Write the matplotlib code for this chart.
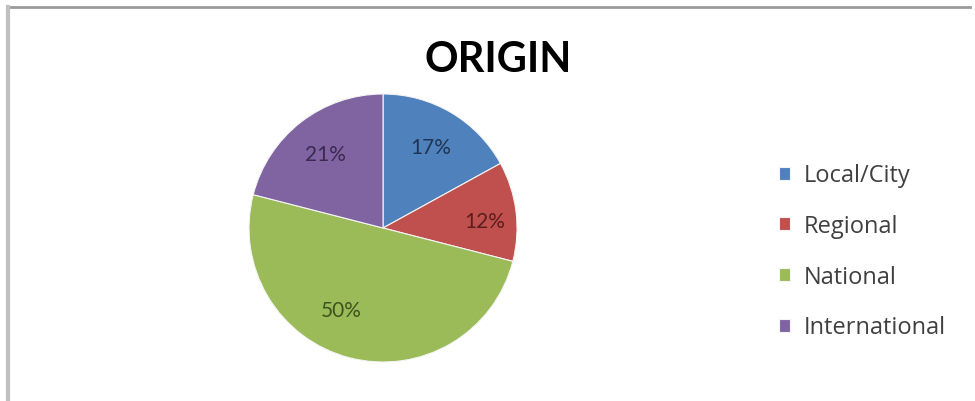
import numpy as np
import matplotlib.pyplot as plt
from matplotlib.lines import Line2D

# Dados do gráfico
categorias = ['Local/City', 'Regional', 'National', 'International']
valores = [17, 12, 50, 21]
cores = ['#4F81BD', '#C0504D', '#9BBB59', '#8064A2']
cores_texto = ['#1F3553', '#5A1E1C', '#3E5420', '#3A2A52']

plt.rcParams['font.family'] = ['Lato', 'DejaVu Sans']

fig = plt.figure(figsize=(9.75, 4.02), dpi=100)
ax = fig.add_axes([0.2554, 0.097, 0.2749, 0.6667])

fatias, _, textos = ax.pie(valores, colors=cores, startangle=90, counterclock=False,
                           autopct='%1.0f%%', pctdistance=0.7,
                           wedgeprops={'edgecolor': '#f4f4f4', 'linewidth': 0.8})
for t, c in zip(textos, cores_texto):
    t.set_color(c)
    t.set_fontsize(15)

# Rótulos de 12% e 50% reposicionados (como no Excel)
ang = np.deg2rad(-117)
textos[2].set_position((0.69 * np.cos(ang), 0.69 * np.sin(ang)))
ang = np.deg2rad(4)
textos[1].set_position((0.76 * np.cos(ang), 0.76 * np.sin(ang)))

ax.set_xlim(-1.0, 1.0)
ax.set_ylim(-1.0, 1.0)
ax.set_aspect('equal')

fig.text(0.511, 0.85, 'ORIGIN', ha='center', va='center',
         fontsize=30, fontweight='bold', color='black')

fig.legend(fatias, categorias, loc='center left', bbox_to_anchor=(0.777, 0.372),
           frameon=False, prop={'family': 'Open Sans', 'size': 17}, labelcolor='#404040',
           handlelength=0.47, handleheight=0.47, handletextpad=0.6, labelspacing=1.13)

# Moldura (linhas cinza no topo e à esquerda)
fig.add_artist(Line2D([0.008, 0.995], [0.981, 0.981], transform=fig.transFigure,
                      color='#9a9a9a', linewidth=2))
fig.add_artist(Line2D([0.008, 0.008], [0.0, 0.981], transform=fig.transFigure,
                      color='#c0c0c0', linewidth=3))

plt.savefig('out.png', dpi=100)
